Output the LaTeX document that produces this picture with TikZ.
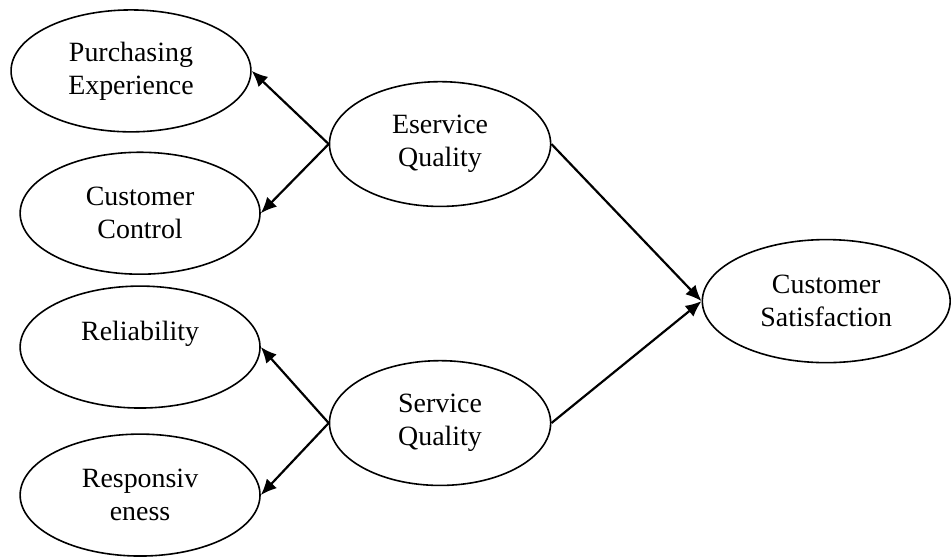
\documentclass[tikz,border=0pt]{standalone}
\usepackage{fontspec}
\setmainfont{Liberation Serif}
\usetikzlibrary{arrows.meta, shapes.geometric}

\tikzset{
  construct/.style={draw, ellipse, line width=0.8pt, minimum width=4.23cm, minimum height=2.15cm, align=center, inner sep=0pt, font=\fontsize{14}{16.5}\selectfont},
  link/.style={-{Latex[length=8pt,width=7pt]}, line width=1.1pt}
}

\begin{document}
\begin{tikzpicture}

        \useasboundingbox (0,0) rectangle (16.77,-9.86);

        % Dimensioni (sinistra)
        \node[construct] (purch) at (2.31, -1.25) {Purchasing\\Experience};
        \node[construct] (control) at (2.47, -3.76) {Customer\\Control};
        \node[construct] (reliab) at (2.47, -6.12) {Reliability\\\mbox{}};
        \node[construct] (respons) at (2.47, -8.73) {Responsiv\\eness};

        % Costrutti centrali
        \node[construct, minimum width=3.9cm, minimum height=2.2cm] (eserv) at (7.76, -2.54) {Eservice\\Quality};
        \node[construct, minimum width=3.9cm, minimum height=2.2cm] (serv) at (7.76, -7.46) {Service\\Quality};

        % Costrutto finale
        \node[construct, minimum width=4.37cm, minimum height=2.17cm] (satisf) at (14.57, -5.31) {Customer\\Satisfaction};

        % Frecce verso le dimensioni
        \draw[link] (eserv.west) -- (purch.east);
        \draw[link] (eserv.west) -- (control.east);
        \draw[link] (serv.west) -- (reliab.east);
        \draw[link] (serv.west) -- (respons.east);

        % Frecce verso soddisfazione
        \draw[link] (eserv.east) -- (satisf.west);
        \draw[link] (serv.east) -- (satisf.west);

\end{tikzpicture}
\end{document}
